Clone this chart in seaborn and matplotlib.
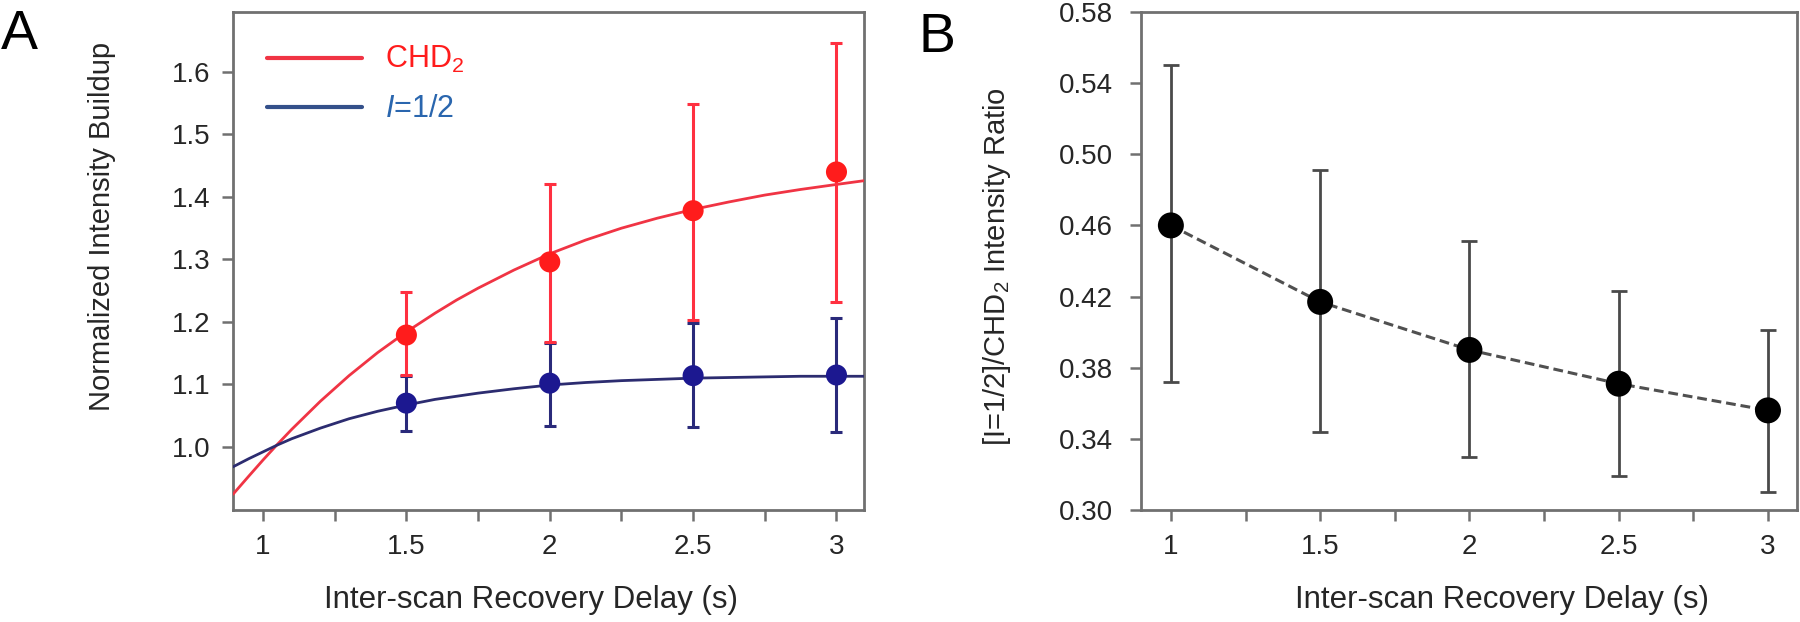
import numpy as np
import pandas as pd
import matplotlib
matplotlib.use("Agg")
import matplotlib.pyplot as plt
import seaborn as sns
from matplotlib.lines import Line2D
from matplotlib.ticker import FormatStrFormatter, FixedLocator

# ---------------- data ----------------
delay_a = [1.5, 2.0, 2.5, 3.0]
chd2_mean = [1.179, 1.296, 1.378, 1.440]
chd2_lo = [1.115, 1.168, 1.203, 1.232]
chd2_hi = [1.248, 1.420, 1.549, 1.647]
half_mean = [1.070, 1.102, 1.114, 1.115]
half_lo = [1.025, 1.034, 1.032, 1.024]
half_hi = [1.114, 1.166, 1.198, 1.206]

# fitted curves
fit_x = [0.895, 0.95, 1.0, 1.05, 1.1, 1.2, 1.3, 1.4, 1.5, 1.6, 1.675, 1.75, 1.875, 2.0,
         2.125, 2.25, 2.375, 2.5, 2.625, 2.75, 2.875, 3.0, 3.096]
fit_chd2 = [0.924, 0.953, 0.979, 1.004, 1.028, 1.073, 1.114, 1.151, 1.184, 1.214, 1.235, 1.254, 1.283, 1.309,
            1.331, 1.350, 1.366, 1.380, 1.392, 1.403, 1.412, 1.420, 1.426]
fit_half = [0.968, 0.981, 0.992, 1.003, 1.013, 1.030, 1.045, 1.057, 1.067, 1.076, 1.081, 1.086, 1.093, 1.099,
            1.103, 1.106, 1.108, 1.110, 1.111, 1.112, 1.113, 1.113, 1.113]

delay_b = [1.0, 1.5, 2.0, 2.5, 3.0]
ratio_mean = [0.460, 0.417, 0.390, 0.371, 0.356]
ratio_lo = [0.372, 0.344, 0.330, 0.319, 0.310]
ratio_hi = [0.550, 0.491, 0.451, 0.423, 0.401]

x_ticks = [1, 1.5, 2, 2.5, 3]
x_ticklabels = ["1", "1.5", "2", "2.5", "3"]
x_minor = [1.25, 1.75, 2.25, 2.75]
ya_ticks = [1.0, 1.1, 1.2, 1.3, 1.4, 1.5, 1.6]
yb_ticks = [0.30, 0.34, 0.38, 0.42, 0.46, 0.50, 0.54, 0.58]

xlabel = "Inter-scan Recovery Delay (s)"
ylabel_a = "Normalized Intensity Buildup"
ylabel_b = "[I=1/2]/CHD$_2$ Intensity Ratio"
legend_labels = ["CHD$_2$", "$I$=1/2"]

# ---------------- style ----------------
sns.set_theme(style="white")
plt.rcParams['font.family'] = ['Liberation Sans', 'DejaVu Sans']
plt.rcParams['mathtext.fontset'] = 'custom'
plt.rcParams['mathtext.rm'] = 'Liberation Sans'
plt.rcParams['mathtext.it'] = 'Liberation Sans:italic'

RED = "#ff1c1c"
RED_LINE = "#f03444"
RED_ERR = "#ff3040"
NAVY = "#1c1890"
NAVY_LINE = "#2c2c70"
NAVY_ERR = "#2a2a7a"
LEG_BLUE_LINE = "#34508a"
BLUE_TXT = "#2a66ae"
SPINE = "#707070"
TXT = "#262626"
TICKFS = 20

fig = plt.figure(figsize=(18, 6.22), dpi=100)
axA = fig.add_axes([0.1294, 0.1801, 0.3506, 0.8006])
axB = fig.add_axes([0.6339, 0.1801, 0.3644, 0.8006])

# ---------------- panel A ----------------
fit_df = pd.DataFrame({"x": fit_x, "chd2": fit_chd2, "half": fit_half})
sns.lineplot(data=fit_df, x="x", y="chd2", ax=axA, color=RED_LINE, lw=2.0, zorder=3)
sns.lineplot(data=fit_df, x="x", y="half", ax=axA, color=NAVY_LINE, lw=2.0, zorder=3)

cm = np.array(chd2_mean); hm = np.array(half_mean)
axA.errorbar(delay_a, hm, yerr=[hm - np.array(half_lo), np.array(half_hi) - hm],
             fmt="none", ecolor=NAVY_ERR, elinewidth=2.2, capsize=4.3, capthick=2.2, zorder=4)
axA.errorbar(delay_a, cm, yerr=[cm - np.array(chd2_lo), np.array(chd2_hi) - cm],
             fmt="none", ecolor=RED_ERR, elinewidth=2.2, capsize=4.3, capthick=2.2, zorder=4)
pts = pd.DataFrame({"x": delay_a * 2, "y": chd2_mean + half_mean,
                    "s": ["CHD2"] * 4 + ["half"] * 4})
sns.scatterplot(data=pts, x="x", y="y", hue="s", palette={"CHD2": RED, "half": NAVY},
                s=230, edgecolor="none", ax=axA, legend=False, zorder=5)

axA.set_xlim(0.895, 3.096)
axA.set_ylim(0.899, 1.696)
axA.yaxis.set_major_locator(FixedLocator(ya_ticks))
axA.yaxis.set_major_formatter(FormatStrFormatter("%.1f"))

handles = [Line2D([0], [0], color=RED_LINE, lw=3), Line2D([0], [0], color=LEG_BLUE_LINE, lw=3)]
leg = axA.legend(handles, legend_labels, loc="upper left", frameon=False,
                 fontsize=22, handlelength=3.1, handletextpad=0.75, labelspacing=0.62,
                 borderpad=0, borderaxespad=0, bbox_to_anchor=(0.054, 0.935))
leg.get_texts()[0].set_color(RED)
leg.get_texts()[1].set_color(BLUE_TXT)

# ---------------- panel B ----------------
dfb = pd.DataFrame({"x": delay_b, "y": ratio_mean})
rm = np.array(ratio_mean)
axB.errorbar(delay_b, rm, yerr=[rm - np.array(ratio_lo), np.array(ratio_hi) - rm],
             fmt="none", ecolor="#4a4a4a", elinewidth=2.0, capsize=6, capthick=2.0, zorder=3)
sns.lineplot(data=dfb, x="x", y="y", ax=axB, color="#505050", lw=2.2,
             linestyle=(0, (3.2, 1.6)), zorder=4)
sns.scatterplot(data=dfb, x="x", y="y", ax=axB, color="black", s=350,
                edgecolor="none", zorder=5)
axB.set_xlim(0.90, 3.097)
axB.set_ylim(0.30, 0.58)
axB.yaxis.set_major_locator(FixedLocator(yb_ticks))
axB.yaxis.set_major_formatter(FormatStrFormatter("%.2f"))

for ax, yl, ypad, lx, ly, xlx in ((axA, ylabel_a, 8, -0.2076, 0.570, 0.473),
                                  (axB, ylabel_b, 12, -0.2195, 0.488, 0.551)):
    ax.xaxis.set_major_locator(FixedLocator(x_ticks))
    ax.set_xticklabels(x_ticklabels)
    ax.xaxis.set_minor_locator(FixedLocator(x_minor))
    for sp in ax.spines.values():
        sp.set_color(SPINE)
        sp.set_linewidth(2.0)
        sp.set_visible(True)
    ax.tick_params(axis="both", which="both", direction="out", length=8, width=1.8,
                   color=SPINE, labelsize=TICKFS, labelcolor=TXT,
                   bottom=True, left=True, top=False, right=False)
    ax.tick_params(axis="x", which="both", pad=9)
    ax.tick_params(axis="y", which="both", pad=ypad)
    ax.set_xlabel(xlabel, fontsize=22.5, color=TXT, va="top")
    ax.xaxis.set_label_coords(xlx, -0.150)
    ax.set_ylabel(yl, fontsize=21, color=TXT, va="center")
    ax.yaxis.set_label_coords(lx, ly)
    ax.grid(False)

fig.text(0.0005, 0.985, "A", fontsize=40, color="black", ha="left", va="top")
fig.text(0.5105, 0.98, "B", fontsize=40, color="black", ha="left", va="top")

fig.savefig("out.png", dpi=100, facecolor="white")
